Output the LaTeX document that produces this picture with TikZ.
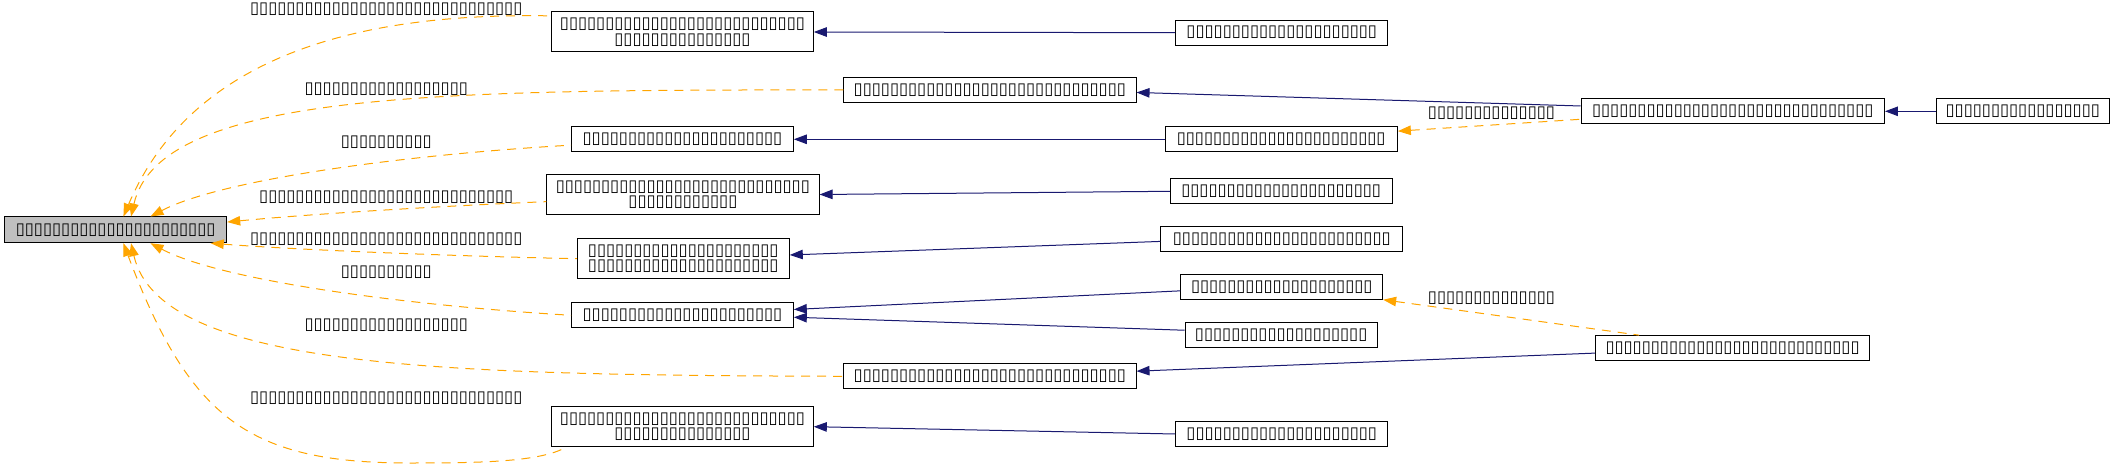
\documentclass[tikz,border=0pt]{standalone}
\usepackage{fontspec}
\newfontfamily\tofufont{DejaVu Sans}
\usetikzlibrary{arrows.meta,calc}
\definecolor{edgenavy}{HTML}{191970}
\definecolor{edgeorange}{HTML}{FFA500}
\tikzset{
	cls/.style={draw=black, line width=1pt, fill=white, inner sep=0pt, align=center, font=\tofufont\fontsize{16.5}{15.5}\selectfont},
	rootcls/.style={cls, fill=black!25},
	rel/.style={inner sep=0pt, font=\tofufont\fontsize{16.5}{15.5}\selectfont},
	usedby/.style={draw=edgenavy, line width=1pt, {Triangle[length=13pt,width=9.5pt]}-},
	tmpl/.style={draw=edgeorange, line width=1pt, dash pattern=on 9pt off 7pt, {Triangle[length=13pt,width=9.5pt]}-}
}

\begin{document}
\begin{tikzpicture}[x=1pt, y=-1pt]
	%%%%% START %%%%%
	\useasboundingbox (0, 0) rectangle (2112, 465);
	
	\node[rootcls, minimum width=222pt, minimum height=25.7pt] (root) at (115.7, 229.85) {▯▯▯▯▯▯▯▯▯▯▯▯▯▯▯▯▯▯▯▯▯▯};
	
	\node[cls, minimum width=261.6pt, minimum height=40pt] (b1) at (682.5, 32) {▯▯▯▯▯▯▯▯▯▯▯▯▯▯▯▯▯▯▯▯▯▯▯▯▯▯▯\\▯▯▯▯▯▯▯▯▯▯▯▯▯▯▯};
	\node[cls, minimum width=292.3pt, minimum height=25.3pt] (b2) at (989.9, 89.9) {▯▯▯▯▯▯▯▯▯▯▯▯▯▯▯▯▯▯▯▯▯▯▯▯▯▯▯▯▯▯};
	\node[cls, minimum width=221.6pt, minimum height=25.3pt] (b3) at (682.5, 139.3) {▯▯▯▯▯▯▯▯▯▯▯▯▯▯▯▯▯▯▯▯▯▯};
	\node[cls, minimum width=272.3pt, minimum height=40.4pt] (b4) at (682.9, 194.5) {▯▯▯▯▯▯▯▯▯▯▯▯▯▯▯▯▯▯▯▯▯▯▯▯▯▯▯▯\\▯▯▯▯▯▯▯▯▯▯▯▯};
	\node[cls, minimum width=212pt, minimum height=40pt] (b5) at (683.3, 258.7) {▯▯▯▯▯▯▯▯▯▯▯▯▯▯▯▯▯▯▯▯▯\\▯▯▯▯▯▯▯▯▯▯▯▯▯▯▯▯▯▯▯▯▯};
	\node[cls, minimum width=221.6pt, minimum height=25.3pt] (b6) at (682.5, 315.3) {▯▯▯▯▯▯▯▯▯▯▯▯▯▯▯▯▯▯▯▯▯▯};
	\node[cls, minimum width=292.3pt, minimum height=25.3pt] (b7) at (989.9, 376.3) {▯▯▯▯▯▯▯▯▯▯▯▯▯▯▯▯▯▯▯▯▯▯▯▯▯▯▯▯▯▯};
	\node[cls, minimum width=261.6pt, minimum height=40pt] (b8) at (682.5, 426.7) {▯▯▯▯▯▯▯▯▯▯▯▯▯▯▯▯▯▯▯▯▯▯▯▯▯▯▯\\▯▯▯▯▯▯▯▯▯▯▯▯▯▯▯};
	
	\node[cls, minimum width=212.3pt, minimum height=25.3pt] (c1) at (1281.8, 32.7) {▯▯▯▯▯▯▯▯▯▯▯▯▯▯▯▯▯▯▯▯▯};
	\node[cls, minimum width=232.3pt, minimum height=25.3pt] (c2) at (1281.2, 139.3) {▯▯▯▯▯▯▯▯▯▯▯▯▯▯▯▯▯▯▯▯▯▯▯};
	\node[cls, minimum width=221.7pt, minimum height=25.3pt] (c3) at (1281.2, 191.3) {▯▯▯▯▯▯▯▯▯▯▯▯▯▯▯▯▯▯▯▯▯▯};
	\node[cls, minimum width=241.7pt, minimum height=25.3pt] (c4) at (1281.8, 239.3) {▯▯▯▯▯▯▯▯▯▯▯▯▯▯▯▯▯▯▯▯▯▯▯▯};
	\node[cls, minimum width=201.7pt, minimum height=25.3pt] (c5) at (1281.8, 287.3) {▯▯▯▯▯▯▯▯▯▯▯▯▯▯▯▯▯▯▯▯};
	\node[cls, minimum width=192.3pt, minimum height=25.3pt] (c6) at (1281.2, 335.3) {▯▯▯▯▯▯▯▯▯▯▯▯▯▯▯▯▯▯▯};
	\node[cls, minimum width=212.3pt, minimum height=25.3pt] (c7) at (1281.8, 434) {▯▯▯▯▯▯▯▯▯▯▯▯▯▯▯▯▯▯▯▯▯};
	
	\node[cls, minimum width=303.3pt, minimum height=25.3pt] (d1) at (1732.8, 111.3) {▯▯▯▯▯▯▯▯▯▯▯▯▯▯▯▯▯▯▯▯▯▯▯▯▯▯▯▯▯▯▯};
	\node[cls, minimum width=273.9pt, minimum height=25.3pt] (d2) at (1732.6, 348.3) {▯▯▯▯▯▯▯▯▯▯▯▯▯▯▯▯▯▯▯▯▯▯▯▯▯▯▯▯};
	\node[cls, minimum width=173.3pt, minimum height=25.3pt] (e1) at (2022.8, 111.3) {▯▯▯▯▯▯▯▯▯▯▯▯▯▯▯▯▯};
	
	% edge labels
	\node[rel] (l1) at (386.3, 9.2) {▯▯▯▯▯▯▯▯▯▯▯▯▯▯▯▯▯▯▯▯▯▯▯▯▯▯▯▯▯▯};
	\node[rel] (l2) at (386.3, 89.5) {▯▯▯▯▯▯▯▯▯▯▯▯▯▯▯▯▯▯};
	\node[rel] (l3) at (386.3, 142.2) {▯▯▯▯▯▯▯▯▯▯};
	\node[rel] (l4) at (386.3, 197.5) {▯▯▯▯▯▯▯▯▯▯▯▯▯▯▯▯▯▯▯▯▯▯▯▯▯▯▯▯};
	\node[rel] (l5) at (386.3, 238.8) {▯▯▯▯▯▯▯▯▯▯▯▯▯▯▯▯▯▯▯▯▯▯▯▯▯▯▯▯▯▯};
	\node[rel] (l6) at (386.3, 272.2) {▯▯▯▯▯▯▯▯▯▯};
	\node[rel] (l7) at (386.3, 325.5) {▯▯▯▯▯▯▯▯▯▯▯▯▯▯▯▯▯▯};
	\node[rel] (l8) at (386.3, 398.3) {▯▯▯▯▯▯▯▯▯▯▯▯▯▯▯▯▯▯▯▯▯▯▯▯▯▯▯▯▯▯};
	\node[rel] (l9) at (1491.5, 113.3) {▯▯▯▯▯▯▯▯▯▯▯▯▯▯};
	\node[rel] (l10) at (1491.5, 298.5) {▯▯▯▯▯▯▯▯▯▯▯▯▯▯};
	
	% dashed edges into the root
	\draw[tmpl] (root.60.4) .. controls (190, 60) and (350, 12) .. (b1.173.8);
	\draw[tmpl] (root.41.9) .. controls (160, 90) and (450, 90) .. (b2.west);
	\draw[tmpl] (root.21.7) .. controls (220, 180) and (400, 155) .. (b3.183.3);
	\draw[tmpl] (root.4.3) .. controls (300, 215) and (420, 207) .. (b4.183.4);
	\draw[tmpl] (root.-8.9) .. controls (300, 250) and (450, 256) .. (b5.west);
	\draw[tmpl] (root.-21.7) .. controls (220, 280) and (400, 305) .. (b6.west);
	\draw[tmpl] (root.-41.9) .. controls (160, 370) and (450, 375) .. (b7.west);
	\draw[tmpl] (root.-60.4) .. controls (190, 420) and (250, 463) .. (410, 463) .. controls (480, 463) and (540, 462) .. (b8.190.7);
	
	% solid edges
	\draw[usedby] (b1.east) -- (c1.west);
	\draw[usedby] (b2.-1.3) -- (d1.178.3);
	\draw[usedby] (b3.east) -- (c2.west);
	\draw[usedby] (b4.east) -- (c3.west);
	\draw[usedby] (b5.2.2) -- (c4.181.6);
	\draw[usedby] (b6.3.1) -- (c5.182.7);
	\draw[usedby] (b6.-1.8) -- (c6.177.9);
	\draw[usedby] (b7.2.2) -- (d2.182.1);
	\draw[usedby] (b8.east) -- (c7.west);
	\draw[usedby] (d1.east) -- (e1.west);
	
	% dashed edges on the right
	\draw[tmpl] (c2.4.2) -- (d1.183.9);
	\draw[tmpl] (c5.-7.6) -- (d2.172.4);
	
	%%%%% END %%%%%
\end{tikzpicture}
\end{document}
